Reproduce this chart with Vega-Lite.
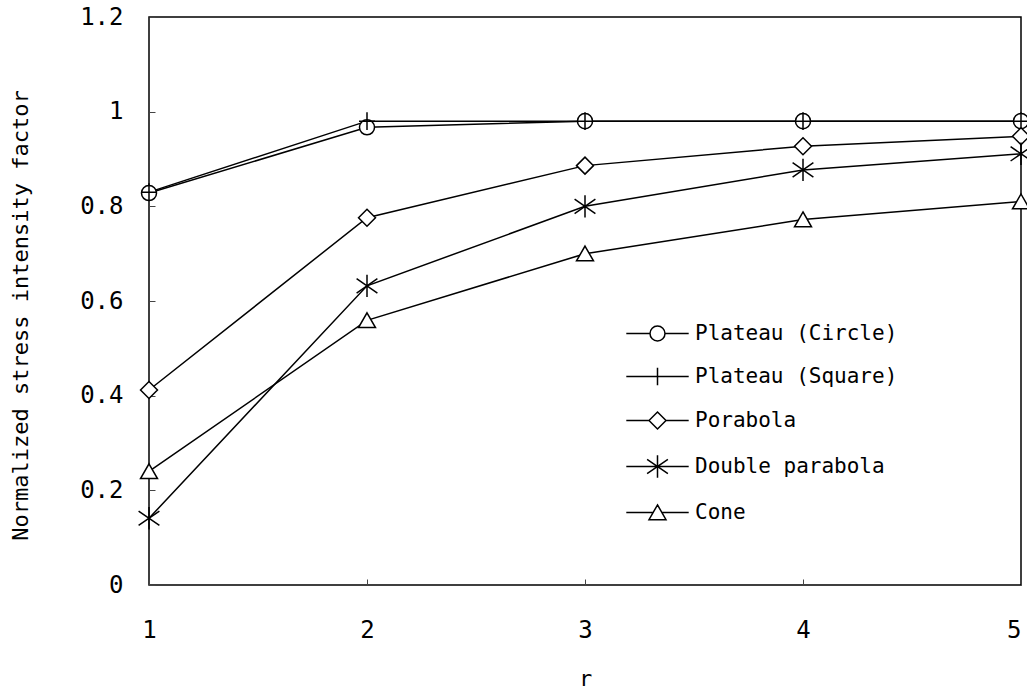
{
  "$schema": "https://vega.github.io/schema/vega-lite/v6.json",
  "width": 872,
  "height": 568,
  "autosize": {"type": "none"},
  "padding": {"left": 149, "top": 17, "right": 6, "bottom": 105},
  "background": "white",
  "config": {
    "view": {"stroke": "black", "strokeWidth": 1.5},
    "font": "DejaVu Sans Mono",
    "axis": {"grid": false, "domain": false, "labelFont": "DejaVu Sans Mono", "titleFont": "DejaVu Sans Mono", "labelColor": "black", "titleColor": "black", "tickColor": "#444", "titleFontWeight": "normal"}
  },
  "data": {"values": [
    {"series": "Plateau (Circle)", "r": 1, "v": 0.828},
    {"series": "Plateau (Circle)", "r": 2, "v": 0.967},
    {"series": "Plateau (Circle)", "r": 3, "v": 0.98},
    {"series": "Plateau (Circle)", "r": 4, "v": 0.98},
    {"series": "Plateau (Circle)", "r": 5, "v": 0.98},
    {"series": "Plateau (Square)", "r": 1, "v": 0.83},
    {"series": "Plateau (Square)", "r": 2, "v": 0.98},
    {"series": "Plateau (Square)", "r": 3, "v": 0.98},
    {"series": "Plateau (Square)", "r": 4, "v": 0.98},
    {"series": "Plateau (Square)", "r": 5, "v": 0.98},
    {"series": "Porabola", "r": 1, "v": 0.412},
    {"series": "Porabola", "r": 2, "v": 0.776},
    {"series": "Porabola", "r": 3, "v": 0.886},
    {"series": "Porabola", "r": 4, "v": 0.927},
    {"series": "Porabola", "r": 5, "v": 0.948},
    {"series": "Double parabola", "r": 1, "v": 0.141},
    {"series": "Double parabola", "r": 2, "v": 0.632},
    {"series": "Double parabola", "r": 3, "v": 0.8},
    {"series": "Double parabola", "r": 4, "v": 0.877},
    {"series": "Double parabola", "r": 5, "v": 0.911},
    {"series": "Cone", "r": 1, "v": 0.24},
    {"series": "Cone", "r": 2, "v": 0.559},
    {"series": "Cone", "r": 3, "v": 0.7},
    {"series": "Cone", "r": 4, "v": 0.772},
    {"series": "Cone", "r": 5, "v": 0.81}
  ]},
  "encoding": {
    "x": {"field": "r", "type": "quantitative", "scale": {"domain": [1, 5], "nice": false, "zero": false},
      "axis": {"values": [1, 2, 3, 4, 5], "format": "d", "title": "r", "labelFontSize": 24, "titleFontSize": 22, "tickSize": -6, "labelPadding": 58, "labelBaseline": "alphabetic", "labelFlush": false, "labelAlign": {"expr": "datum.value === 5 ? 'right' : 'center'"}, "titleX": 436, "titleY": 100, "titleBaseline": "alphabetic"}},
    "y": {"field": "v", "type": "quantitative", "scale": {"domain": [0, 1.2], "nice": false},
      "axis": {"values": [0, 0.2, 0.4, 0.6, 0.8, 1, 1.2], "format": "~g", "title": "Normalized stress intensity factor", "labelFontSize": 24, "titleFontSize": 22, "tickSize": -6, "labelPadding": 32, "labelFlush": false, "titleX": -122, "titleY": 298, "titleBaseline": "alphabetic"}}
  },
  "resolve": {"scale": {"shape": "independent"}, "legend": {"shape": "independent"}},
  "layer": [
    {"mark": {"type": "point", "filled": false, "fill": "white", "stroke": "black", "strokeWidth": 1.5, "size": 0, "opacity": 1},
     "encoding": {
       "shape": {"field": "series", "type": "nominal",
         "scale": {"domain": ["Plateau (Circle)", "Plateau (Square)", "Porabola", "Double parabola", "Cone"],
           "range": [
             "M-6.24,0L-1.5,0M1.5,0L6.24,0M-1.5,0A1.5,1.5,0,1,1,1.5,0A1.5,1.5,0,1,1,-1.5,0Z",
             "M-6.24,0L6.24,0M0,-1.76L0,1.76",
             "M-6.24,0L-1.7,0M1.7,0L6.24,0M-1.7,0L0,-1.7L1.7,0L0,1.7Z",
             "M-6.24,0L6.24,0M0,-2.24L0,2.24M-2.08,-1.44L2.08,1.44M-2.08,1.44L2.08,-1.44",
             "M-6.24,0L-0.86,0M0.86,0L6.24,0M0,-1.52L1.7,1.44L-1.7,1.44Z"
           ]},
         "legend": {
           "title": null, "orient": "none", "legendX": 498, "legendY": 306,
           "labelFont": "DejaVu Sans Mono", "labelFontSize": 21, "labelColor": "black", "labelOffset": 27, "rowPadding": 20, "labelLimit": 400
         }}
     }},
    {"mark": {"type": "line", "stroke": "black", "strokeWidth": 1.5},
     "encoding": {"detail": {"field": "series"}}},
    {"mark": {"type": "point", "filled": false, "fill": "white", "stroke": "black", "strokeWidth": 1.5, "size": 256, "opacity": 1},
     "encoding": {
       "shape": {"field": "series", "type": "nominal",
         "scale": {"domain": ["Plateau (Circle)", "Plateau (Square)", "Porabola", "Double parabola", "Cone"],
           "range": [
             "M-0.94,0A0.94,0.94,0,1,1,0.94,0A0.94,0.94,0,1,1,-0.94,0Z",
             "M-1,0L1,0M0,-1.1L0,1.1",
             "M-1.06,0L0,-1.06L1.06,0L0,1.06Z",
             "M0,-1.4L0,1.4M-1.3,-0.9L1.3,0.9M-1.3,0.9L1.3,-0.9",
             "M0,-0.95L1.06,0.9L-1.06,0.9Z"
           ]},
         "legend": null}
     }}
  ]
}
